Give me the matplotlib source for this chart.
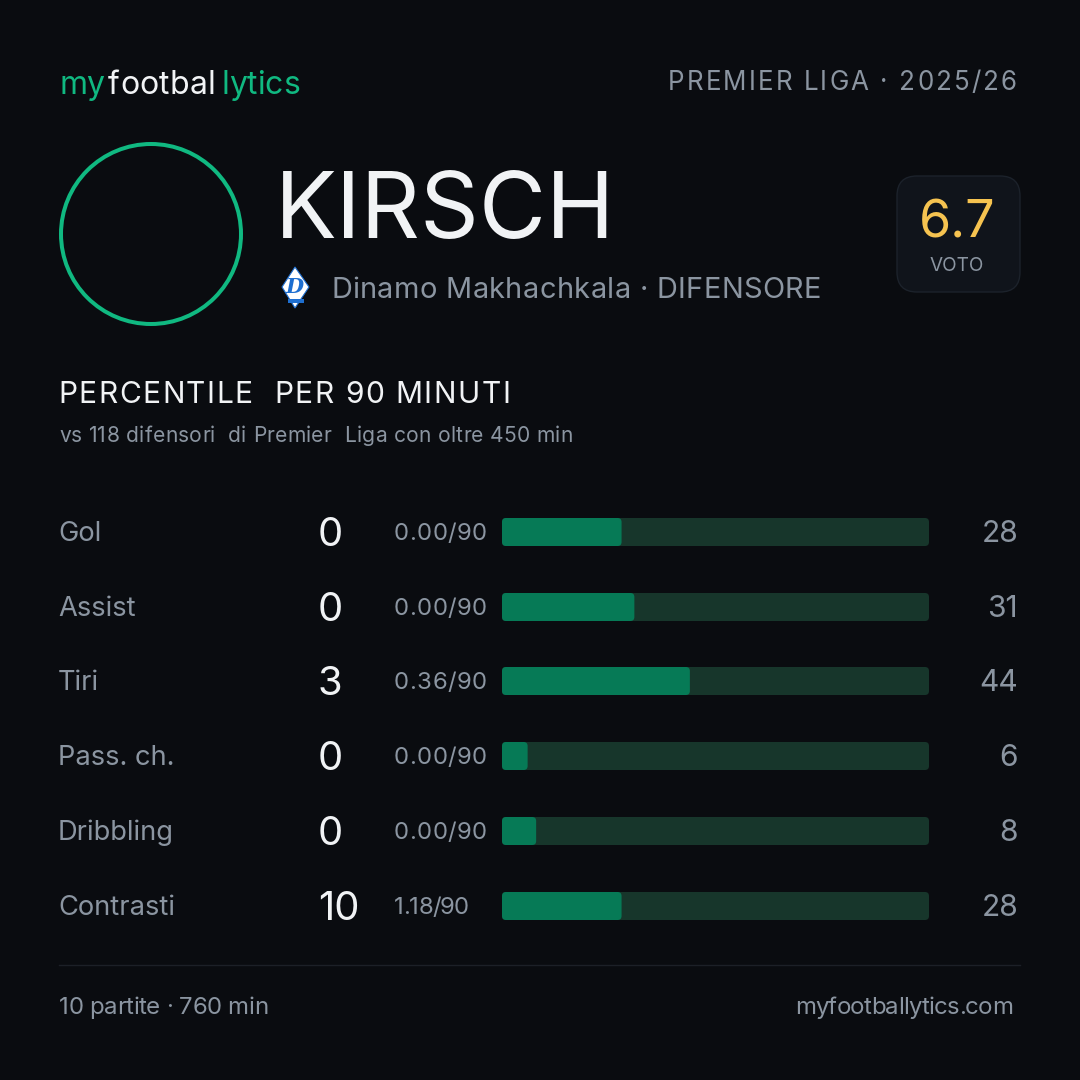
import matplotlib
matplotlib.use("Agg")
import matplotlib.pyplot as plt
from matplotlib.patches import Circle, FancyBboxPatch, Polygon, Rectangle

labels = ["Gol", "Assist", "Tiri", "Pass. ch.", "Dribbling", "Contrasti"]
totals = ["0", "0", "3", "0", "0", "10"]
per90 = ["0.00/90", "0.00/90", "0.36/90", "0.00/90", "0.00/90", "1.18/90"]
percentiles = [28, 31, 44, 6, 8, 28]

BG = "#0a0c10"
GREY = "#8b95a1"
WHITE = "#f1f3f5"
GREEN = "#10b981"
PX = 0.72  # font size in px -> pt at dpi 100

plt.rcParams["font.family"] = ["Inter", "DejaVu Sans"]

fig = plt.figure(figsize=(10.8, 10.8), dpi=100, facecolor=BG)
ax = fig.add_axes([0, 0, 1, 1])
ax.set_xlim(0, 1080)
ax.set_ylim(1080, 0)
ax.axis("off")
renderer = fig.canvas.get_renderer()


def width(s, size):
    probe = ax.text(0, 0, s + "|", fontsize=size * PX)
    w = probe.get_window_extent(renderer).width
    probe.set_text("|")
    w -= probe.get_window_extent(renderer).width
    probe.remove()
    return w


def txt(x, y, s, size, color=GREY, ha="left", x1=None, weight="normal"):
    # y is the middle of the capitals, x1 stretches the tracking to end there
    base = y + 0.364 * size
    if x1 is None:
        ax.text(x, base, s, fontsize=size * PX, color=color, ha=ha, va="baseline", weight=weight)
        return
    gap = (x1 - x - width(s, size)) / (len(s) - 1)
    for i, ch in enumerate(s):
        if ch != " ":
            ax.text(x + width(s[:i], size) + gap * i, base, ch, fontsize=size * PX,
                    color=color, ha="left", va="baseline", weight=weight)


# header
txt(59, 82, "my", 32, GREEN, x1=104)
txt(108, 82, "footbal", 32, WHITE, x1=215)
txt(221, 82, "lytics", 32, GREEN, x1=300)
txt(668, 81, "PREMIER LIGA · 2025/26", 26, GREY, x1=1017)

# player
ax.add_patch(Circle((151, 234), 90, fill=False, ec=GREEN, lw=4 * PX))
txt(275, 205, "KIRSCH", 92, WHITE)
txt(331, 287, "Dinamo Makhachkala · DIFENSORE", 29, GREY, x1=821)

# club crest
ax.add_patch(Polygon([(295, 267), (309, 287), (295, 308), (282, 287)], fc="white", ec="#1e6fd0", lw=0.8))
ax.add_patch(Rectangle((288, 299), 16, 4, fc="#1e6fd0", ec="none"))
ax.text(295, 293, "D", fontsize=15, color="#1e6fd0", ha="center", va="baseline",
        family="DejaVu Serif", style="italic", weight="bold")

# rating box
ax.add_patch(FancyBboxPatch((897, 176), 123, 116, boxstyle="round,pad=0,rounding_size=20",
                            fc="#10141b", ec="#1c222b", lw=1))
txt(957, 219, "6.7", 52, "#f6c350", ha="center")
txt(957, 264, "VOTO", 19, GREY, ha="center")

# subtitle
txt(58, 392, "PERCENTILE  PER 90 MINUTI", 30, WHITE, x1=510)
txt(59, 434, "vs 118 difensori  di Premier  Liga con oltre 450 min", 21, GREY, x1=573)

# rows
row_y = [532, 607, 681, 756, 831, 906]
for y, lab, tot, p90, pct in zip(row_y, labels, totals, per90, percentiles):
    txt(58, y - 1, lab, 27.3, GREY)
    txt(318, y - 1, tot, 40, WHITE)
    txt(394, y - 1, p90, 24, GREY, x1=487 if p90[0] == "0" else 469)
    txt(1018, y - 1, str(pct), 30, GREY, ha="right")

# bars on their own percent scale
bx = fig.add_axes([502 / 1080, 1 - 920 / 1080, 427 / 1080, 402 / 1080])
bx.set_xlim(0, 100)
bx.set_ylim(920, 518)
bx.axis("off")
bx.patch.set_alpha(0)
for y, pct in zip(row_y, percentiles):
    bx.add_patch(FancyBboxPatch((0, y - 14), 100, 28, boxstyle="round,pad=0,rounding_size=0.94",
                                mutation_aspect=4.27, fc="#17362b", ec="none"))
    bx.add_patch(FancyBboxPatch((0, y - 14), pct, 28, boxstyle="round,pad=0,rounding_size=0.94",
                                mutation_aspect=4.27, fc="#067a56", ec="none"))

# footer
ax.plot([59, 1020], [965, 965], color="#1c2027", lw=1)
txt(59, 1005, "10 partite · 760 min", 24, GREY, x1=268)
txt(795, 1005, "myfootballytics.com", 24, GREY, x1=1013)

fig.savefig("out.png", dpi=100, facecolor=BG)
